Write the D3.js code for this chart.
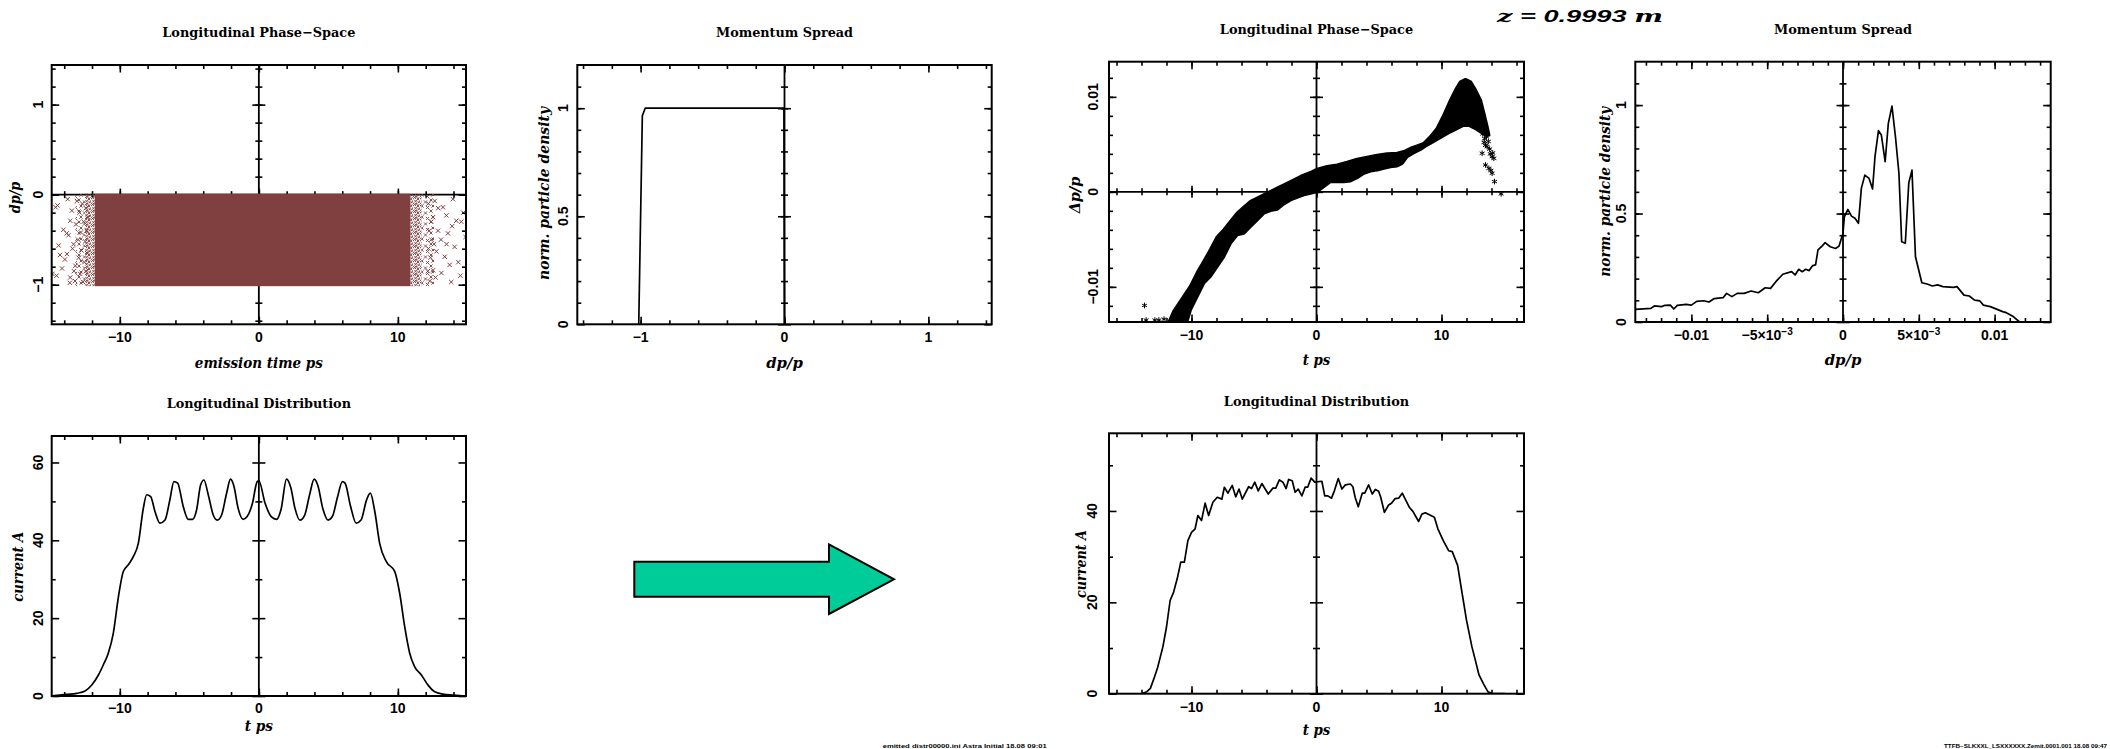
<!DOCTYPE html>
<html><head><meta charset="utf-8">
<script src="https://cdn.jsdelivr.net/npm/d3@7"></script>
<style>body{margin:0;background:#fff}svg{display:block}</style>
</head><body>
<svg id="c" width="2110" height="749"></svg>
<script>
// ---------------- DATA ----------------
// Panel 1: initial longitudinal phase space (emission time vs dp/p)
const p1CoreT = [-11.8, 10.9];          // dense core of the particle cloud (ps)
const p1DenseEdgesT = [[-12.5, -11.8], [10.9, 11.7]];   // densely packed crosses
const p1MediumEdgesT = [[-13.2, -12.5], [11.7, 12.6]];  // medium density crosses
const p1DpRange = [-1, 0];
const p1SparseT = [-14.85,-14.62,-14.55,-14.48,-14.4,-14.3,-14.16,-14.06,-13.95,-13.82,-13.8,-13.75,-13.69,-13.6,-13.57,-13.57,-13.45,-13.4,-13.33,-13.3,-13.22,-13.2,-13.15,-13.09,-13.0,-12.95,-12.9,-12.85,-12.8,-12.75,-12.7,-12.65,-12.6,-12.55,-12.5,-12.45,-12.45,-12.4,-12.35,-12.3,
  14.87,14.56,14.2,13.96,13.84,13.72,14.08,13.49,13.6,13.25,13.37,13.13,12.89,12.77,12.65,12.53,12.53,12.41,12.29,14.35,14.5,13.9,14.7,13.1,12.9,12.7,12.6,13.5,12.4,12.35,12.2,12.2,12.15,12.25];
const p1SparseDp = [-0.88,-0.14,-0.9,-0.12,-0.565,-0.67,-0.82,-0.39,-0.72,-0.43,-0.66,-0.05,-0.45,-0.98,-0.29,-0.92,-0.177,-0.6,-0.55,-0.85,-0.96,-0.79,-0.33,-0.07,-0.5,-0.7,-0.2,-0.88,-0.42,-0.62,-0.1,-0.97,-0.3,-0.75,-0.52,-0.15,-0.85,-0.4,-0.65,-0.25,
  -0.47,-0.30,-0.29,-0.05,-0.97,-0.78,-0.58,-0.23,-0.43,-0.14,-0.69,-0.87,-0.4,-0.63,-0.07,-0.84,-0.25,-0.5,-0.96,-0.75,-0.9,-0.35,-0.2,-0.5,-0.15,-0.92,-0.55,-0.55,-0.3,-0.7,-0.1,-0.6,-0.85,-0.4];

// Panel 2: initial momentum spread
const p2Dp = [-1.013, -0.988, -0.968, -0.5, -0.004, 0.0];
const p2Dens = [0, 0.965, 1.0, 1.0, 1.0, 0];

// Panel 3: final longitudinal phase space band (t ps vs dp/p)
const p3UpperT = [-11.9,-11.41,-10.61,-10.08,-9.55,-9.01,-8.48,-7.95,-7.41,-6.88,-6.35,-5.81,-5.28,-4.75,-3.95,-3.15,-2.61,-2.08,-1.28,-0.48,0.05,0.85,1.65,2.45,3.25,4.05,4.85,5.65,6.45,6.99,7.52,8.05,8.59,9.12,9.65,10.19,10.72,11.12,11.52,11.92,12.32,12.72,13.12,13.39,13.65,13.79,13.5,12.8,12.2];
const p3UpperDp = [-0.0140,-0.01255,-0.01098,-0.00993,-0.00853,-0.00731,-0.00608,-0.00476,-0.00399,-0.00311,-0.00224,-0.00161,-0.00101,-0.00066,-0.00014,0.00038,0.00073,0.00108,0.00161,0.00203,0.00238,0.00266,0.00283,0.00311,0.00343,0.00364,0.00385,0.00399,0.00406,0.00423,0.00458,0.00483,0.00510,0.00580,0.00668,0.00808,0.00965,0.01070,0.01157,0.01182,0.01157,0.01070,0.00965,0.00825,0.00685,0.00598,0.0060,0.0066,0.0070];
const p3LowerT = [11.79,10.72,9.65,8.85,8.32,7.79,7.25,6.85,6.45,5.92,5.39,4.85,4.32,3.79,3.25,2.72,2.19,1.65,1.12,0.59,0.05,-0.48,-1.01,-1.55,-2.08,-2.61,-3.15,-3.68,-4.21,-4.75,-5.28,-5.81,-6.35,-6.88,-7.41,-7.95,-8.48,-9.01,-9.55,-10.08,-10.45];
const p3LowerDp = [0.00703,0.00633,0.00552,0.00493,0.00448,0.00413,0.00371,0.00301,0.00273,0.00266,0.00248,0.00231,0.00220,0.00196,0.00150,0.00115,0.00108,0.00108,0.00108,0.00056,0.00003,-0.00014,-0.00031,-0.00056,-0.00084,-0.00126,-0.00182,-0.00196,-0.00224,-0.00294,-0.00364,-0.00434,-0.00451,-0.00538,-0.00678,-0.00783,-0.00888,-0.00958,-0.01098,-0.01238,-0.0140];
const p3StarT = [-13.76,-13.63,-12.93,-12.61,-12.2,13.25,13.4,13.52,13.65,13.85,14.05,14.19,13.52,13.79,13.95,14.05,14.24,14.77,13.6,13.3,13.9,14.1,13.75,13.45];
const p3StarDp = [-0.01196,-0.0135,-0.0135,-0.0135,-0.0134,0.00406,0.0052,0.0049,0.00476,0.0045,0.00371,0.00353,0.00283,0.00248,0.00225,0.00196,0.00108,-0.00021,0.0058,0.0061,0.0040,0.0041,0.0053,0.0056];

// Panel 4: final momentum spread
const p4Dp = [-0.01371,-0.01267,-0.01244,-0.01197,-0.01174,-0.01139,-0.01116,-0.01093,-0.01035,-0.0100,-0.00965,-0.00919,-0.00884,-0.00849,-0.00791,-0.00768,-0.00733,-0.00698,-0.00652,-0.00606,-0.00559,-0.00513,-0.00478,-0.00443,-0.00397,-0.00339,-0.00316,-0.00292,-0.00269,-0.00246,-0.00223,-0.00200,-0.00181,-0.00165,-0.00142,-0.00118,-0.00084,-0.00049,-0.00026,0.0,0.00009,0.00032,0.00056,0.00079,0.00102,0.00121,0.00144,0.00172,0.00195,0.00211,0.00234,0.00253,0.00278,0.00299,0.00323,0.00346,0.00369,0.00387,0.00411,0.00434,0.00455,0.00478,0.0052,0.00555,0.00589,0.00624,0.00659,0.00729,0.00752,0.00798,0.00833,0.00868,0.00903,0.00926,0.00949,0.00972,0.01053,0.01077,0.01123,0.01165];
const p4Dens = [0.058,0.063,0.074,0.071,0.077,0.078,0.060,0.077,0.081,0.078,0.095,0.098,0.092,0.108,0.112,0.132,0.117,0.132,0.132,0.143,0.135,0.158,0.155,0.186,0.22,0.232,0.217,0.243,0.232,0.243,0.237,0.26,0.263,0.332,0.347,0.366,0.347,0.339,0.35,0.409,0.485,0.519,0.488,0.478,0.455,0.616,0.677,0.662,0.613,0.762,0.882,0.862,0.739,0.916,0.995,0.854,0.685,0.370,0.363,0.642,0.70,0.301,0.181,0.175,0.166,0.171,0.163,0.160,0.163,0.124,0.120,0.101,0.097,0.078,0.074,0.071,0.048,0.043,0.025,0];

// Panel 5: initial longitudinal distribution (current)
const p5T = [-14.9,-13.82,-13.1,-12.5,-12.02,-11.54,-11.19,-10.83,-10.47,-10.1,-9.75,-9.39,-9.03,-8.67,-8.31,-8.07,-7.78,-7.47,-7.11,-6.75,-6.4,-6.11,-5.84,-5.44,-5.08,-4.77,-4.48,-4.19,-3.95,-3.64,-3.28,-2.99,-2.68,-2.32,-2.04,-1.8,-1.49,-1.13,-0.84,-0.46,-0.12,0.0,0.45,0.91,1.27,1.6,1.99,2.3,2.6,2.95,3.3,3.65,3.98,4.25,4.6,4.98,5.3,5.65,6.01,6.2,6.6,7.0,7.35,7.75,8.02,8.34,8.69,9.17,9.77,10.13,10.49,10.85,11.21,11.69,12.17,12.65,13.25,13.96,14.87];
const p5I = [0,0.43,0.69,1.29,2.83,5.4,7.97,10.97,16.1,25.5,32,33.7,35.8,39.2,48.2,51.7,51.2,47.4,44.4,45.2,50.4,55.1,54.7,48.7,45.4,45.4,47.8,54.2,55.5,51.7,46.5,45.2,46.5,52.1,55.7,54,48.2,45.4,46.1,49.5,55.1,55.3,49.5,46,45.4,48,55.7,53.5,48.2,45.2,46.5,51.7,55.7,54,48.2,45.2,46.2,51,55.1,54.7,48.7,44.4,45.2,50.4,52.1,47.4,39.2,34.5,32,26.4,17.8,11,7.5,5.4,2.8,1.1,0.5,0.26,0];

// Panel 6: final longitudinal distribution (current)
const p6T = [-14,-13.57,-13.29,-13,-12.71,-12.29,-12,-11.71,-11.43,-11.14,-10.86,-10.57,-10.29,-10,-9.71,-9.49,-9.2,-8.91,-8.63,-8.29,-7.94,-7.57,-7.37,-7.09,-6.74,-6.46,-6.2,-5.94,-5.43,-5.2,-4.94,-4.66,-4.37,-3.86,-3.49,-3.26,-2.97,-2.69,-2.43,-2.23,-1.94,-1.71,-1.46,-1.17,-0.91,-0.71,-0.43,-0.14,0.43,0.66,0.91,1.2,1.43,1.74,2.03,2.31,2.71,2.91,3.09,3.34,3.66,3.86,4.17,4.46,4.71,4.97,5.14,5.43,5.77,6,6.29,6.57,6.86,7.43,7.71,8.17,8.43,8.71,9.43,9.71,10.14,10.57,10.86,11.29,11.57,12,12.43,12.71,13,13.37,13.71,14,14.57,15.1];
const p6I = [0,0.44,1.16,3.35,5.75,10.25,14.6,20.4,22.25,25.2,28.8,28.8,33.5,35.3,36.1,39,37.9,41.7,39,41.9,43,42.6,45.2,43.9,45.6,43.1,44.8,42.6,45.3,44.9,46.3,44.4,46,43.7,45,45,46.8,46.3,44.9,46.9,46.6,44.1,44.8,43.3,45.2,45.2,47.2,46.3,46.5,43.3,43.3,42.8,44.4,47.1,44.8,45.7,45.9,45.3,43,40.9,43.9,43.9,45.7,43.7,44.7,44.3,43,39.7,41.3,41.7,42.7,42.8,43.9,40.8,39.9,37.7,39.3,39.6,38.6,36.1,33.5,31.3,31.1,28.1,23.3,16.1,10.3,7.3,4.1,2.1,0.44,0.07,0,0];

// Tick values and labels
const tickPs15 = [-10, 0, 10], tickPs15Labels = ["\u221210", "0", "10"];
const tickDp1 = [-1, 0, 1], tickDp1Labels = ["\u22121", "0", "1"];
const tickDens = [0, 0.5, 1], tickDensLabels = ["0", "0.5", "1"];
const tickDp3 = [-0.01, 0, 0.01], tickDp3Labels = ["\u22120.01", "0", "0.01"];
const tickDp4 = [-0.01, -0.005, 0, 0.005, 0.01], tickDp4Labels = ["\u22120.01", "\u22125\u00d710|\u22123", "0", "5\u00d710|\u22123", "0.01"];
const tickI5 = [0, 20, 40, 60], tickI5Labels = ["0", "20", "40", "60"];
const tickI6 = [0, 20, 40], tickI6Labels = ["0", "20", "40"];

// ---------------- DRAWING ----------------
const svg = d3.select('#c');
const defs = svg.append('defs');
const SANS = "'Liberation Sans', Arial, Helvetica, sans-serif";
const SERIF = "'DejaVu Serif', 'Liberation Serif', serif";
const RED = '#804040';
const range = (a, b, s) => d3.range(Math.round((b - a) / s) + 1).map(i => +(a + i * s).toFixed(6));
const zip = (a, b) => d3.range(Math.min(a.length, b.length)).map(i => [a[i], b[i]]);

// cross-texture patterns for the phase-space cloud edges
function crossPattern(id, w, h, marks) {
  const p = defs.append('pattern').attr('id', id).attr('patternUnits', 'userSpaceOnUse').attr('width', w).attr('height', h);
  marks.forEach(([cx, cy]) => p.append('path')
    .attr('d', `M${cx - 1.6},${cy - 1.6}L${cx + 1.6},${cy + 1.6}M${cx - 1.6},${cy + 1.6}L${cx + 1.6},${cy - 1.6}`)
    .attr('stroke', RED).attr('stroke-width', 0.9).attr('fill', 'none'));
}
crossPattern('xDense', 7, 7, [[1.5, 1.5], [5, 3], [2.5, 5.2], [5.8, 6.3], [3.6, 0.2]]);
crossPattern('xMedium', 11, 11, [[2, 2], [7.5, 4], [4, 8], [9.5, 9.5]]);

function panel(cfg) {
  const [x0, y0, x1, y1] = cfg.box;
  const x = d3.scaleLinear().domain(cfg.xd).range([x0, x1]);
  const y = d3.scaleLinear().domain(cfg.yd).range([y1, y0]);
  const g = svg.append('g');
  defs.append('clipPath').attr('id', 'clip' + cfg.id)
    .append('rect').attr('x', x0).attr('y', y0).attr('width', x1 - x0).attr('height', y1 - y0);

  const style = s => { s.select('.domain').remove(); s.selectAll('text').remove();
    s.selectAll('line').attr('stroke', '#000').attr('stroke-width', 1.6); };
  const mk = (axis, tx, ty, vals, size) => g.append('g').attr('transform', `translate(${tx},${ty})`)
    .call(axis.tickValues(vals).tickSize(size)).call(style);

  if (cfg.zeroX) {
    const xz = x(0);
    g.append('line').attr('x1', xz).attr('x2', xz).attr('y1', y0).attr('y2', y1).attr('stroke', '#000').attr('stroke-width', 1.8);
    mk(d3.axisLeft(y), xz, 0, cfg.yMin, 3.5); mk(d3.axisRight(y), xz, 0, cfg.yMin, 3.5);
    mk(d3.axisLeft(y), xz, 0, cfg.yMaj, 6.5); mk(d3.axisRight(y), xz, 0, cfg.yMaj, 6.5);
  }
  if (cfg.zeroY) {
    const yz = y(0);
    g.append('line').attr('x1', x0).attr('x2', x1).attr('y1', yz).attr('y2', yz).attr('stroke', '#000').attr('stroke-width', 1.8);
    mk(d3.axisTop(x), 0, yz, cfg.xMin, 3.5); mk(d3.axisBottom(x), 0, yz, cfg.xMin, 3.5);
    mk(d3.axisTop(x), 0, yz, cfg.xMaj, 6); mk(d3.axisBottom(x), 0, yz, cfg.xMaj, 6);
  }

  const plot = g.append('g').attr('clip-path', `url(#clip${cfg.id})`);
  cfg.draw(plot, x, y);

  mk(d3.axisBottom(x), 0, y1, cfg.xMin, -4); mk(d3.axisBottom(x), 0, y1, cfg.xMaj, -7.5);
  mk(d3.axisTop(x), 0, y0, cfg.xMin, -4); mk(d3.axisTop(x), 0, y0, cfg.xMaj, -7.5);
  mk(d3.axisLeft(y), x0, 0, cfg.yMin, -4); mk(d3.axisLeft(y), x0, 0, cfg.yMaj, -7.5);
  mk(d3.axisRight(y), x1, 0, cfg.yMin, -4); mk(d3.axisRight(y), x1, 0, cfg.yMaj, -7.5);

  g.append('rect').attr('x', x0).attr('y', y0).attr('width', x1 - x0).attr('height', y1 - y0)
    .attr('fill', 'none').attr('stroke', '#000').attr('stroke-width', 2);

  const lbl = (sel, s) => {
    const parts = s.split('|');
    sel.text(parts[0]);
    if (parts[1]) sel.append('tspan').attr('dy', '-0.5em').attr('font-size', '0.72em').text(parts[1]);
  };
  cfg.xMaj.forEach((v, i) => {
    const t = g.append('text').attr('x', x(v)).attr('y', y1 + cfg.xTickDy)
      .attr('text-anchor', 'middle').attr('font-family', SANS).attr('font-weight', 'bold').attr('font-size', 14);
    lbl(t, cfg.xLabels[i]);
  });
  cfg.yMaj.forEach((v, i) => {
    g.append('text').attr('transform', `translate(${x0 - cfg.yTickDx},${y(v)}) rotate(-90)`)
      .attr('text-anchor', 'middle').attr('font-family', SANS).attr('font-weight', 'bold').attr('font-size', 14)
      .text(cfg.yLabels[i]);
  });

  g.append('text').attr('x', x(0)).attr('y', cfg.titleY).attr('text-anchor', 'middle')
    .attr('font-family', SERIF).attr('font-weight', 'bold').attr('font-size', 13.5)
    .attr('textLength', cfg.titleW).attr('lengthAdjust', 'spacingAndGlyphs').text(cfg.title);
  g.append('text').attr('x', x(0)).attr('y', cfg.xlabY).attr('text-anchor', 'middle')
    .attr('font-family', SERIF).attr('font-weight', 'bold').attr('font-style', 'italic').attr('font-size', 14.5)
    .attr('textLength', cfg.xlabW).attr('lengthAdjust', 'spacingAndGlyphs').text(cfg.xlabel);
  g.append('text').attr('transform', `translate(${cfg.ylabX},${cfg.ylabCY}) rotate(-90)`).attr('text-anchor', 'middle')
    .attr('font-family', SERIF).attr('font-weight', 'bold').attr('font-style', 'italic').attr('font-size', 14.5)
    .attr('textLength', cfg.ylabW).attr('lengthAdjust', 'spacingAndGlyphs').text(cfg.ylabel);
}

const lineStyle = p => p.attr('fill', 'none').attr('stroke', '#000').attr('stroke-width', 1.7).attr('stroke-linejoin', 'round');

// ---- Panel 1
panel({
  id: 'p1', box: [51.7, 65, 466, 324.3], xd: [-14.9, 14.9], yd: [-1.44, 1.44],
  xMaj: tickPs15, xMin: range(-14, 14, 2), yMaj: tickDp1, yMin: range(-1.4, 1.4, 0.2),
  xLabels: tickPs15Labels, yLabels: tickDp1Labels, xTickDy: 17.4, yTickDx: 8.5,
  zeroX: true, zeroY: true,
  title: 'Longitudinal Phase\u2212Space', titleW: 193, titleY: 37,
  xlabel: 'emission time ps', xlabW: 128, xlabY: 368,
  ylabel: 'dp/p', ylabW: 31.6, ylabX: 20, ylabCY: 197.5,
  draw: (p, x, y) => {
    const band = (t, fill) => p.append('rect').attr('x', x(t[0])).attr('width', x(t[1]) - x(t[0]))
      .attr('y', y(p1DpRange[1]) - 1).attr('height', y(p1DpRange[0]) - y(p1DpRange[1]) + 2.5).attr('fill', fill);
    p1MediumEdgesT.forEach(t => band(t, 'url(#xMedium)'));
    p1DenseEdgesT.forEach(t => band(t, 'url(#xDense)'));
    band(p1CoreT, RED);
    const cross = d3.symbol().type(d3.symbolX).size(14);
    p.selectAll('.x1').data(zip(p1SparseT, p1SparseDp)).join('path').attr('d', cross)
      .attr('transform', d => `translate(${x(d[0])},${y(d[1])})`)
      .attr('fill', 'none').attr('stroke', RED).attr('stroke-width', 1);
  }
});

// ---- Panel 2
panel({
  id: 'p2', box: [577.3, 65, 991.7, 324.3], xd: [-1.44, 1.44], yd: [0, 1.2],
  xMaj: tickDp1, xMin: range(-1.4, 1.4, 0.2), yMaj: tickDens, yMin: range(0.1, 1.1, 0.1),
  xLabels: tickDp1Labels, yLabels: tickDensLabels, xTickDy: 17.4, yTickDx: 9,
  zeroX: true, zeroY: false,
  title: 'Momentum Spread', titleW: 137, titleY: 37,
  xlabel: 'dp/p', xlabW: 36.7, xlabY: 368,
  ylabel: 'norm. particle density', ylabW: 173, ylabX: 548.5, ylabCY: 193.5,
  draw: (p, x, y) => {
    p.append('path').datum(zip(p2Dp, p2Dens)).attr('d', d3.line().x(d => x(d[0])).y(d => y(d[1]))).call(lineStyle);
  }
});

// ---- Panel 3
panel({
  id: 'p3', box: [1109, 61.7, 1524, 322], xd: [-16.6, 16.6], yd: [-0.0137, 0.0137],
  xMaj: tickPs15, xMin: range(-16, 16, 2), yMaj: tickDp3, yMin: range(-0.012, 0.012, 0.002),
  xLabels: tickPs15Labels, yLabels: tickDp3Labels, xTickDy: 18, yTickDx: 11,
  zeroX: true, zeroY: true,
  title: 'Longitudinal Phase\u2212Space', titleW: 193.3, titleY: 34.3,
  xlabel: 't ps', xlabW: 27.7, xlabY: 365,
  ylabel: '\u0394p/p', ylabW: 36.7, ylabX: 1080, ylabCY: 195,
  draw: (p, x, y) => {
    const poly = zip(p3UpperT, p3UpperDp).concat(zip(p3LowerT, p3LowerDp));
    p.append('path').datum(poly).attr('d', d3.line().x(d => x(d[0])).y(d => y(d[1])).curve(d3.curveLinearClosed))
      .attr('fill', '#000').attr('stroke', '#000').attr('stroke-width', 3.2).attr('stroke-linejoin', 'round');
    const star = d3.symbol().type(d3.symbolAsterisk || d3.symbolCross).size(22);
    p.selectAll('.st').data(zip(p3StarT, p3StarDp)).join('path').attr('d', star)
      .attr('transform', d => `translate(${x(d[0])},${y(d[1])})`)
      .attr('fill', 'none').attr('stroke', '#000').attr('stroke-width', 1);
  }
});

// ---- Panel 4
panel({
  id: 'p4', box: [1635.3, 61.7, 2050.7, 322], xd: [-0.0137, 0.0137], yd: [0, 1.2],
  xMaj: tickDp4, xMin: range(-0.013, 0.013, 0.001), yMaj: tickDens, yMin: range(0.1, 1.1, 0.1),
  xLabels: tickDp4Labels, yLabels: tickDensLabels, xTickDy: 18, yTickDx: 9,
  zeroX: true, zeroY: false,
  title: 'Momentum Spread', titleW: 138, titleY: 34,
  xlabel: 'dp/p', xlabW: 36.7, xlabY: 365,
  ylabel: 'norm. particle density', ylabW: 170, ylabX: 1610, ylabCY: 191.7,
  draw: (p, x, y) => {
    p.append('path').datum(zip(p4Dp, p4Dens)).attr('d', d3.line().x(d => x(d[0])).y(d => y(d[1]))).call(lineStyle);
  }
});

// ---- Panel 5
panel({
  id: 'p5', box: [51.7, 436, 466, 696], xd: [-14.9, 14.9], yd: [0, 66.8],
  xMaj: tickPs15, xMin: range(-14, 14, 2), yMaj: tickI5, yMin: [10, 30, 50],
  xLabels: tickPs15Labels, yLabels: tickI5Labels, xTickDy: 17.4, yTickDx: 8.5,
  zeroX: true, zeroY: false,
  title: 'Longitudinal Distribution', titleW: 184.3, titleY: 408.3,
  xlabel: 't ps', xlabW: 28.3, xlabY: 730.5,
  ylabel: 'current A', ylabW: 70, ylabX: 23, ylabCY: 566.7,
  draw: (p, x, y) => {
    p.append('path').datum(zip(p5T, p5I)).attr('d', d3.line().x(d => x(d[0])).y(d => y(d[1])).curve(d3.curveMonotoneX)).call(lineStyle);
  }
});

// ---- Panel 6
panel({
  id: 'p6', box: [1109, 433.3, 1524, 693.7], xd: [-16.6, 16.6], yd: [0, 57],
  xMaj: tickPs15, xMin: range(-16, 16, 2), yMaj: tickI6, yMin: [10, 30, 50],
  xLabels: tickPs15Labels, yLabels: tickI6Labels, xTickDy: 18, yTickDx: 11.7,
  zeroX: true, zeroY: false,
  title: 'Longitudinal Distribution', titleW: 185.3, titleY: 406,
  xlabel: 't ps', xlabW: 27.7, xlabY: 735,
  ylabel: 'current A', ylabW: 68, ylabX: 1086, ylabCY: 564,
  draw: (p, x, y) => {
    p.append('path').datum(zip(p6T, p6I)).attr('d', d3.line().x(d => x(d[0])).y(d => y(d[1]))).call(lineStyle);
  }
});

// ---- Position label
const zt = svg.append('text').attr('x', 1497).attr('y', 21.7).attr('font-size', 17)
  .attr('font-weight', 'bold').attr('font-style', 'italic').attr('font-family', SANS)
  .attr('textLength', 166).attr('lengthAdjust', 'spacingAndGlyphs');
zt.append('tspan').attr('font-family', SERIF).text('z');
zt.append('tspan').text(' = 0.9993 ');
zt.append('tspan').attr('font-family', SERIF).text('m');

// ---- Arrow between the stages
const arrowPts = [[634.3, 561.7], [829, 561.7], [829, 544.3], [894, 579.3], [829, 614], [829, 596.7], [634.3, 596.7]];
svg.append('path').attr('d', d3.line()(arrowPts) + 'Z').attr('fill', '#00cc99')
  .attr('stroke', '#000').attr('stroke-width', 2).attr('stroke-linejoin', 'miter');

// ---- Tiny footers
svg.append('text').attr('x', 882.7).attr('y', 747.5).attr('font-family', SANS).attr('font-weight', 'bold')
  .attr('font-size', 4.6).attr('textLength', 164).attr('lengthAdjust', 'spacingAndGlyphs')
  .text('emitted distr00000.ini Astra Initial 18.08 09:01');
svg.append('text').attr('x', 1944).attr('y', 747.5).attr('font-family', SANS).attr('font-weight', 'bold')
  .attr('font-size', 4.6).attr('textLength', 163).attr('lengthAdjust', 'spacingAndGlyphs')
  .text('TTFB\u2212SLKXXL_LSXXXXXX.Zemit.0001.001  18.08  09:47');
</script>
</body></html>
